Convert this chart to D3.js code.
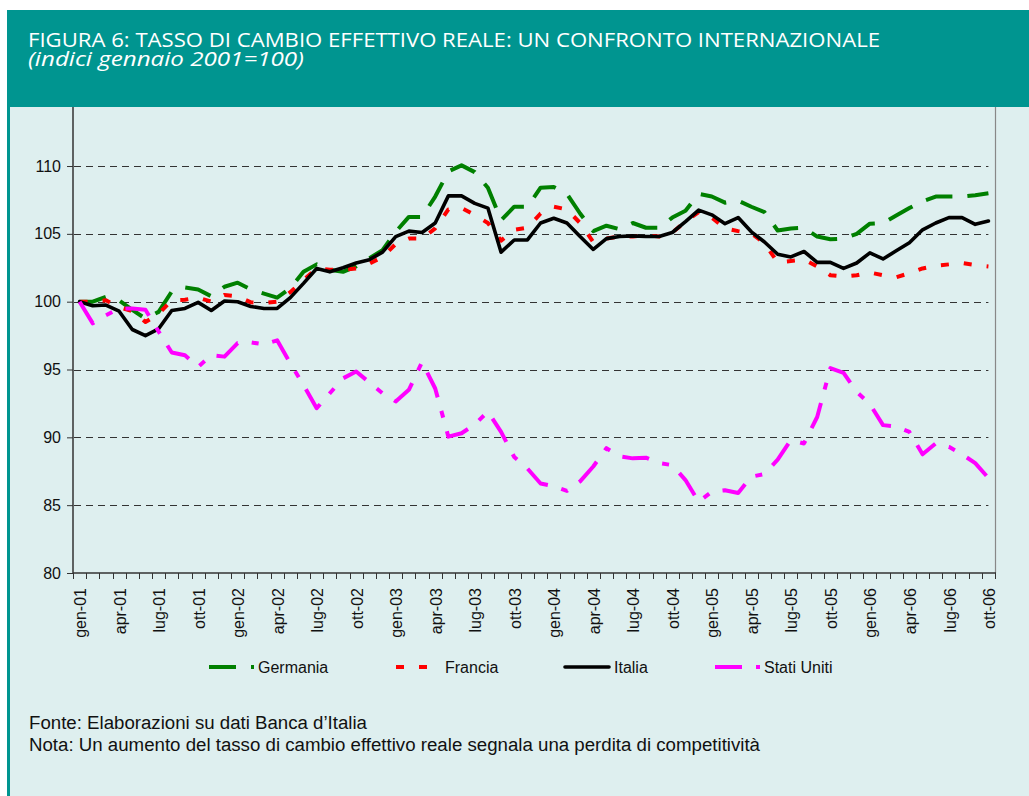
<!DOCTYPE html>
<html>
<head>
<meta charset="utf-8">
<script src="https://cdn.jsdelivr.net/npm/d3@7"></script>
<style>
  body { margin: 0; background: #fff; }
  svg { display: block; }
</style>
</head>
<body>
<div id="chart"></div>
<script>
// dati mensili gen-01 .. ott-06 (indici gennaio 2001=100)
var mesi = ["gen", "feb", "mar", "apr", "mag", "giu", "lug", "ago", "set", "ott", "nov", "dic"];
var anni = ["01", "02", "03", "04", "05", "06"];

var tickLabels = ["gen-01", "apr-01", "lug-01", "ott-01", "gen-02", "apr-02", "lug-02", "ott-02",
  "gen-03", "apr-03", "lug-03", "ott-03", "gen-04", "apr-04", "lug-04", "ott-04",
  "gen-05", "apr-05", "lug-05", "ott-05", "gen-06", "apr-06", "lug-06", "ott-06"];

var yTicks = [80, 85, 90, 95, 100, 105, 110];

var germania = [100.0, 100.0, 100.35, 100.1, 99.4, 98.75, 99.25, 100.75, 101.05, 100.9,
  100.4, 101.1, 101.4, 100.9, 100.6, 100.3, 101.0, 102.2, 102.75, 102.35,
  102.2, 102.6, 103.2, 103.8, 105.15, 106.25, 106.25, 107.75, 109.6, 110.05,
  109.55, 108.4, 106.0, 107.0, 107.0, 108.4, 108.45, 107.95, 106.5, 105.2,
  105.6, 105.35, 105.8, 105.45, 105.45, 106.2, 106.7, 107.95, 107.75, 107.3,
  107.45, 107.0, 106.6, 105.25, 105.4, 105.45, 104.8, 104.6, 104.65, 105.0,
  105.75, 105.8, 106.35, 106.9, 107.4, 107.75, 107.75, 107.75, 107.85, 108.0];

var francia = [100.0, 100.0, 100.1, 99.6, 99.3, 98.5, 99.1, 100.1, 100.15, 100.3,
  100.0, 100.5, 100.4, 99.95, 99.9, 100.0, 100.7, 101.6, 102.45, 102.35,
  102.35, 102.45, 102.8, 103.3, 104.25, 104.65, 104.65, 105.4, 106.8, 106.9,
  106.4, 105.8, 104.5, 105.3, 105.45, 106.5, 107.0, 106.8, 105.8, 104.4,
  104.65, 104.8, 104.8, 104.9, 104.8, 105.1, 105.9, 106.6, 106.2, 105.4,
  105.2, 105.05, 104.3, 102.9, 103.0, 103.1, 102.6, 101.95, 101.85, 101.95,
  102.15, 101.95, 101.8, 102.1, 102.45, 102.65, 102.75, 102.85, 102.7, 102.6];

var italia = [100.0, 99.7, 99.75, 99.3, 97.95, 97.5, 98.0, 99.35, 99.5, 99.95,
  99.35, 100.05, 100.0, 99.65, 99.5, 99.5, 100.3, 101.35, 102.45, 102.2,
  102.5, 102.85, 103.1, 103.65, 104.8, 105.2, 105.1, 105.8, 107.8, 107.8,
  107.25, 106.9, 103.65, 104.55, 104.55, 105.8, 106.15, 105.8, 104.8, 103.85,
  104.65, 104.8, 104.85, 104.8, 104.8, 105.1, 105.9, 106.75, 106.4, 105.75,
  106.2, 105.15, 104.4, 103.5, 103.3, 103.7, 102.9, 102.9, 102.45, 102.85,
  103.6, 103.15, 103.75, 104.35, 105.3, 105.8, 106.2, 106.2, 105.7, 105.95];

var statiUniti = [100.0, 98.4, 99.0, 99.5, 99.5, 99.4, 97.8, 96.25, 96.05, 95.2,
  96.05, 95.95, 96.95, 97.0, 96.85, 97.15, 95.45, 93.85, 92.15, 93.25,
  94.35, 94.85, 94.05, 93.25, 92.65, 93.5, 95.55, 93.6, 90.05, 90.3,
  90.95, 91.9, 90.4, 88.55, 87.7, 86.6, 86.4, 86.05, 86.75, 87.85,
  89.2, 88.6, 88.45, 88.5, 88.1, 87.95, 86.85, 85.25, 86.0, 86.1,
  85.9, 87.1, 87.3, 88.35, 89.8, 89.55, 91.5, 95.1, 94.75, 93.35,
  92.45, 90.9, 90.8, 90.4, 88.75, 89.55, 89.3, 88.75, 88.1, 87.0];

var categorie = [];
anni.forEach(function (a) {
  mesi.forEach(function (m) { categorie.push(m + "-" + a); });
});
categorie = categorie.slice(0, germania.length);

var serie = [
  { nome: "Germania", valori: germania, colore: "#008000", width: 4, dash: "27,15", cap: "butt" },
  { nome: "Francia", valori: francia, colore: "#ff0000", width: 4, dash: "8,15", cap: "butt" },
  { nome: "Italia", valori: italia, colore: "#000000", width: 3.6, dash: null, cap: "round" },
  { nome: "Stati Uniti", valori: statiUniti, colore: "#ff00ff", width: 4, dash: "27,14,7,14", cap: "butt" }
];

var svgWidth = 1029;
var svgHeight = 796;

var plot = { left: 73, right: 995, top: 98.2, bottom: 573 };

var svg = d3.select("#chart")
  .append("svg")
  .attr("width", svgWidth)
  .attr("height", svgHeight);

var font = "'Liberation Sans', Arial, sans-serif";

// sfondo pannello
svg.append("rect")
  .attr("x", 8).attr("y", 10)
  .attr("width", svgWidth - 8).attr("height", svgHeight - 10)
  .attr("fill", "#deefef");

svg.append("rect")
  .attr("x", 7).attr("y", 10)
  .attr("width", 3).attr("height", svgHeight - 10)
  .attr("fill", "#009590");

var x = d3.scaleBand()
  .domain(categorie)
  .range([plot.left, plot.right]);

var y = d3.scaleLinear()
  .domain([80, 115])
  .range([plot.bottom, plot.top]);

var cx = d => x(d) + x.bandwidth() / 2;

var chartGroup = svg.append("g");

// griglia
chartGroup.selectAll(".grid")
  .data(yTicks.filter(v => v > 80))
  .enter()
  .append("line")
  .attr("x1", plot.left + 1)
  .attr("x2", cx(categorie[categorie.length - 1]))
  .attr("y1", d => Math.round(y(d)) + 0.5)
  .attr("y2", d => Math.round(y(d)) + 0.5)
  .attr("stroke", "#333")
  .attr("stroke-width", 1)
  .attr("stroke-dasharray", "7,5");

// bordo destro
chartGroup.append("line")
  .attr("x1", plot.right + 0.5).attr("x2", plot.right + 0.5)
  .attr("y1", plot.top).attr("y2", plot.bottom)
  .attr("stroke", "#888")
  .attr("stroke-width", 1.2);

// asse y
var leftAxis = d3.axisLeft(y).tickValues(yTicks).tickSize(6).tickPadding(6);
var yAxisG = chartGroup.append("g")
  .attr("transform", `translate(${plot.left}, 0)`)
  .call(leftAxis);
yAxisG.select(".domain").remove();
yAxisG.selectAll("line").attr("stroke", "#333");
yAxisG.selectAll("text")
  .attr("font-family", font)
  .attr("font-size", 16)
  .attr("fill", "#111");

chartGroup.append("line")
  .attr("x1", plot.left).attr("x2", plot.left)
  .attr("y1", plot.top).attr("y2", plot.bottom + 1)
  .attr("stroke", "#333")
  .attr("stroke-width", 1.5);

// asse x
chartGroup.append("line")
  .attr("x1", plot.left).attr("x2", plot.right + 1)
  .attr("y1", plot.bottom).attr("y2", plot.bottom)
  .attr("stroke", "#333")
  .attr("stroke-width", 1.5);

var bordi = categorie.map(c => x(c)).concat([plot.right]);
chartGroup.selectAll(".xtick")
  .data(bordi)
  .enter()
  .append("line")
  .attr("x1", d => Math.round(d) + 0.5)
  .attr("x2", d => Math.round(d) + 0.5)
  .attr("y1", plot.bottom)
  .attr("y2", plot.bottom + 6)
  .attr("stroke", "#333")
  .attr("stroke-width", 1);

chartGroup.selectAll(".xlabel")
  .data(tickLabels)
  .enter()
  .append("text")
  .attr("transform", d => `translate(${cx(d) + 1}, ${plot.bottom + 15}) rotate(-90)`)
  .attr("text-anchor", "end")
  .attr("dy", "0.35em")
  .attr("font-family", font)
  .attr("font-size", 16)
  .attr("fill", "#111")
  .text(d => d);

// linee
var line = d3.line()
  .x((d, i) => cx(categorie[i]))
  .y(d => y(d));

chartGroup.selectAll(".serie")
  .data(serie)
  .enter()
  .append("path")
  .attr("d", d => line(d.valori))
  .attr("fill", "none")
  .attr("stroke", d => d.colore)
  .attr("stroke-width", d => d.width)
  .attr("stroke-dasharray", d => d.dash)
  .attr("stroke-linecap", d => d.cap)
  .attr("stroke-linejoin", "round");

// legenda
var legendX = [209, 396, 565, 715];
var legend = svg.selectAll(".legend")
  .data(serie)
  .enter()
  .append("g")
  .attr("transform", (d, i) => `translate(${legendX[i]}, 667)`);

legend.append("line")
  .attr("x1", 0).attr("x2", d => d.dash ? 45 : 44)
  .attr("y1", 0).attr("y2", 0)
  .attr("stroke", d => d.colore)
  .attr("stroke-width", d => d.width)
  .attr("stroke-dasharray", d => d.dash)
  .attr("stroke-linecap", d => d.cap);

legend.append("text")
  .attr("x", 49)
  .attr("y", 0)
  .attr("dy", "0.35em")
  .attr("font-family", font)
  .attr("font-size", 16)
  .attr("fill", "#111")
  .text(d => d.nome);

// note
svg.append("text")
  .attr("x", 29).attr("y", 729)
  .attr("font-family", font)
  .attr("font-size", 18)
  .attr("fill", "#111")
  .attr("textLength", 338)
  .attr("lengthAdjust", "spacingAndGlyphs")
  .text("Fonte: Elaborazioni su dati Banca d\u2019Italia");

svg.append("text")
  .attr("x", 29).attr("y", 750.5)
  .attr("font-family", font)
  .attr("font-size", 18)
  .attr("fill", "#111")
  .attr("textLength", 731)
  .attr("lengthAdjust", "spacingAndGlyphs")
  .text("Nota: Un aumento del tasso di cambio effettivo reale segnala una perdita di competitivit\u00e0");

// testata
svg.append("rect")
  .attr("x", 8).attr("y", 10)
  .attr("width", svgWidth - 8).attr("height", 97)
  .attr("fill", "#009590");

svg.append("text")
  .attr("x", 28).attr("y", 47)
  .attr("font-family", "'Open Sans', sans-serif")
  .attr("font-size", 19.5)
  .attr("fill", "#fff")
  .attr("textLength", 852)
  .attr("lengthAdjust", "spacingAndGlyphs")
  .text("FIGURA 6: TASSO DI CAMBIO EFFETTIVO REALE: UN CONFRONTO INTERNAZIONALE");

svg.append("text")
  .attr("x", 28).attr("y", 66)
  .attr("font-family", "'Open Sans', sans-serif")
  .attr("font-size", 19.5)
  .attr("font-style", "italic")
  .attr("fill", "#fff")
  .attr("textLength", 276)
  .attr("lengthAdjust", "spacingAndGlyphs")
  .text("(indici gennaio 2001=100)");
</script>
</body>
</html>
